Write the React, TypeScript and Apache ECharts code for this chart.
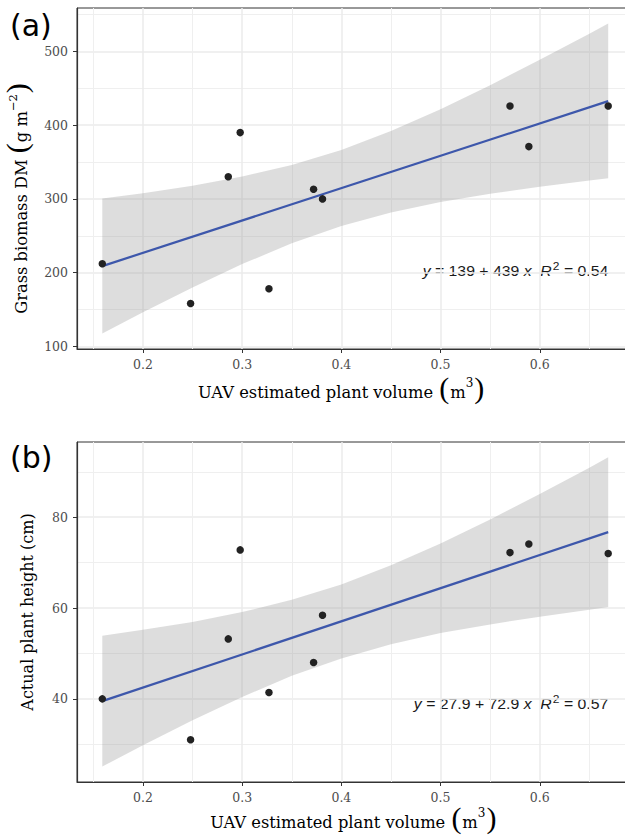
import React, { useEffect, useRef } from 'react';
import * as echarts from 'echarts';

// ---- data ----
const plantVolume = [0.159, 0.248, 0.286, 0.298, 0.327, 0.372, 0.381, 0.570, 0.589, 0.669];
const grassBiomass = [212, 158, 330, 390, 178, 313, 300, 426, 371, 426];
const plantHeight = [40.0, 31.0, 53.2, 72.8, 41.4, 48.0, 58.4, 72.2, 74.1, 72.0];

// confidence band edges
const bandVolume = [0.159, 0.2, 0.25, 0.3, 0.35, 0.4, 0.45, 0.5, 0.55, 0.6, 0.65, 0.669];
const biomassLower = [117.3, 146.1, 179.9, 211.5, 239.7, 263.1, 281.6, 295.9, 307.1, 316.6, 324.9, 327.9];
const biomassUpper = [300.5, 307.8, 317.9, 330.3, 346.1, 366.5, 392.0, 421.7, 454.3, 488.8, 524.3, 538.1];
const heightLower = [25.1, 29.8, 35.3, 40.4, 45.1, 48.9, 52.0, 54.5, 56.4, 58.1, 59.6, 60.2];
const heightUpper = [53.9, 55.2, 56.9, 59.1, 61.8, 65.2, 69.4, 74.2, 79.5, 85.1, 90.9, 93.2];

// fitted lines (end points)
const fitVolume = [0.159, 0.669];
const biomassFit = [208.8, 432.7];
const heightFit = [39.5, 76.7];

// axes
const xTicks = [0.2, 0.3, 0.4, 0.5, 0.6];
const xMinorTicks = [0.15, 0.25, 0.35, 0.45, 0.55, 0.65];
const biomassTicks = [100, 200, 300, 400, 500];
const biomassMinorTicks = [150, 250, 350, 450, 550];
const heightTicks = [40, 60, 80];
const heightMinorTicks = [30, 50, 70, 90];
const xRange = [0.1335, 0.6945];
const biomassRange = [96.3, 559.1];
const heightRange = [21.7, 96.55];

// texts
const xTitle = 'UAV estimated plant volume ';
const biomassTitle = 'Grass biomass DM ';
const heightTitle = 'Actual plant height (cm)';
const eqA = { a: '139', b: '439', r2: '0.54' };
const eqB = { a: '27.9', b: '72.9', r2: '0.57' };

const SERIF = "'DejaVu Serif', serif";
const PAREN = "'Liberation Serif', serif";
const SANS = "'Liberation Sans', Arial, sans-serif";
const TICK_COLOR = '#4D4D4D';
const DARK = '#333333';
const BAND_FILL = 'rgba(153,153,153,0.33)';
const LINE_COLOR = '#3D57AB';
const POINT_COLOR = '#222222';
const MAJOR_GRID = { color: '#EBEBEB', width: 1.5 };
const MINOR_GRID = { color: '#EFEFEF', width: 1 };

function majorX(gridIndex: number) {
  return {
    type: 'value', gridIndex, min: xRange[0], max: xRange[1], position: 'bottom',
    axisLine: { show: true, onZero: false, lineStyle: { color: DARK, width: 1.2 } },
    axisTick: { show: true, length: 4, customValues: xTicks, lineStyle: { color: DARK, width: 1 } },
    axisLabel: { show: true, customValues: xTicks, margin: 9, color: TICK_COLOR, fontFamily: SERIF, fontSize: 12.5 },
    splitLine: { show: true, lineStyle: MAJOR_GRID },
  };
}
function minorX(gridIndex: number) {
  return {
    type: 'value', gridIndex, min: xRange[0], max: xRange[1], position: 'top',
    axisLine: { show: false }, axisTick: { show: false, customValues: xMinorTicks },
    axisLabel: { show: false, customValues: xMinorTicks },
    splitLine: { show: true, lineStyle: MINOR_GRID },
  };
}
function majorY(gridIndex: number, range: number[], ticks: number[]) {
  return {
    type: 'value', gridIndex, min: range[0], max: range[1], position: 'left',
    axisLine: { show: true, onZero: false, lineStyle: { color: DARK, width: 1.2 } },
    axisTick: { show: true, length: 4, customValues: ticks, lineStyle: { color: DARK, width: 1 } },
    axisLabel: { show: true, customValues: ticks, margin: 9, color: TICK_COLOR, fontFamily: SERIF, fontSize: 12.5 },
    splitLine: { show: true, lineStyle: MAJOR_GRID },
  };
}
function minorY(gridIndex: number, range: number[], ticks: number[]) {
  return {
    type: 'value', gridIndex, min: range[0], max: range[1], position: 'right',
    axisLine: { show: false }, axisTick: { show: false, customValues: ticks },
    axisLabel: { show: false, customValues: ticks },
    splitLine: { show: true, lineStyle: MINOR_GRID },
  };
}

function bandSeries(axisIndex: number, lower: number[], upper: number[]) {
  return {
    type: 'custom', xAxisIndex: axisIndex, yAxisIndex: axisIndex, silent: true, z: 2,
    data: bandVolume.map((x, i) => [x, lower[i], upper[i]]),
    encode: { x: 0, y: [1, 2] },
    renderItem: (params: any, api: any) => {
      if (params.dataIndex !== 0) return null;
      const pts: number[][] = [];
      for (let i = 0; i < bandVolume.length; i++) pts.push(api.coord([bandVolume[i], upper[i]]));
      for (let i = bandVolume.length - 1; i >= 0; i--) pts.push(api.coord([bandVolume[i], lower[i]]));
      return { type: 'polygon', shape: { points: pts }, style: { fill: BAND_FILL, stroke: 'none' } };
    },
  };
}
function fitSeries(axisIndex: number, fit: number[]) {
  return {
    type: 'line', xAxisIndex: axisIndex, yAxisIndex: axisIndex, z: 3, silent: true,
    data: fitVolume.map((x, i) => [x, fit[i]]),
    showSymbol: false, symbol: 'none',
    lineStyle: { color: LINE_COLOR, width: 2.2 },
  };
}
function pointSeries(axisIndex: number, ys: number[]) {
  return {
    type: 'scatter', xAxisIndex: axisIndex, yAxisIndex: axisIndex, z: 4, silent: true,
    data: plantVolume.map((x, i) => [x, ys[i]]),
    symbol: 'circle', symbolSize: 7.5,
    itemStyle: { color: POINT_COLOR, opacity: 1 },
  };
}

function xTitleText(cx: number, cy: number) {
  return {
    type: 'text', x: cx, y: cy, silent: true,
    style: {
      text: xTitle + '{p|(}m{s|3}{p|)}',
      fontFamily: SERIF, fontSize: 16.3, fill: '#000',
      align: 'center', verticalAlign: 'middle', textAlign: 'center', textVerticalAlign: 'middle',
      rich: {
        p: { fontFamily: PAREN, fontSize: 30, fill: '#000', padding: [0, 1, 10, 1] },
        s: { fontFamily: SERIF, fontSize: 12, fill: '#000', padding: [0, 0, 19, 0] },
      },
    },
  };
}
function eqText(rx: number, cy: number, eq: { a: string; b: string; r2: string }) {
  return {
    type: 'text', x: rx, y: cy, scaleX: 1.09, silent: true,
    style: {
      text: `{i|y} = ${eq.a} + ${eq.b} {i|x}  {i|R}{s|2} = ${eq.r2}`,
      fontFamily: SANS, fontSize: 14.5, fill: '#1a1a1a',
      align: 'right', verticalAlign: 'middle', textAlign: 'right', textVerticalAlign: 'middle',
      rich: {
        i: { fontFamily: SANS, fontSize: 14.5, fontStyle: 'italic', fill: '#1a1a1a' },
        s: { fontFamily: SANS, fontSize: 11, fill: '#1a1a1a', padding: [0, 0, 9, 1] },
      },
    },
  };
}

export default function App() {
  const ref = useRef<HTMLDivElement>(null);
  useEffect(() => {
    if (!ref.current) return;
    const chart = echarts.init(ref.current, null, { renderer: 'svg' });
    chart.setOption({
      animation: false,
      backgroundColor: '#ffffff',
      grid: [
        { left: 77, top: 8, width: 556.5, height: 341, show: true, borderColor: DARK, borderWidth: 1, backgroundColor: 'transparent', containLabel: false, outerBoundsMode: 'none' },
        { left: 77, top: 442, width: 556.5, height: 340, show: true, borderColor: DARK, borderWidth: 1, backgroundColor: 'transparent', containLabel: false, outerBoundsMode: 'none' },
      ],
      xAxis: [majorX(0), minorX(0), majorX(1), minorX(1)],
      yAxis: [
        majorY(0, biomassRange, biomassTicks), minorY(0, biomassRange, biomassMinorTicks),
        majorY(1, heightRange, heightTicks), minorY(1, heightRange, heightMinorTicks),
      ],
      series: [
        bandSeries(0, biomassLower, biomassUpper),
        fitSeries(0, biomassFit),
        pointSeries(0, grassBiomass),
        bandSeries(2, heightLower, heightUpper),
        fitSeries(2, heightFit),
        pointSeries(2, plantHeight),
      ],
      graphic: [
        { type: 'text', x: 10, y: 25, silent: true, style: { text: '(a)', fontFamily: "'DejaVu Sans', sans-serif", fontSize: 30, fill: '#000', align: 'left', verticalAlign: 'middle', textAlign: 'left', textVerticalAlign: 'middle' } },
        { type: 'text', x: 10, y: 457, silent: true, style: { text: '(b)', fontFamily: "'DejaVu Sans', sans-serif", fontSize: 30, fill: '#000', align: 'left', verticalAlign: 'middle', textAlign: 'left', textVerticalAlign: 'middle' } },
        {
          type: 'text', x: 21.5, y: 198, rotation: Math.PI / 2, silent: true,
          style: {
            text: biomassTitle + '{p|(}g m{s|\u22122}{p|)}',
            fontFamily: SERIF, fontSize: 16.3, fill: '#000',
            align: 'center', verticalAlign: 'middle', textAlign: 'center', textVerticalAlign: 'middle',
            rich: {
              p: { fontFamily: PAREN, fontSize: 30, fill: '#000', padding: [0, 1, 10, 1] },
              s: { fontFamily: SERIF, fontSize: 11.5, fill: '#000', padding: [0, 0, 17, 0] },
            },
          },
        },
        {
          type: 'text', x: 27.5, y: 612, rotation: Math.PI / 2, silent: true,
          style: {
            text: heightTitle, fontFamily: SERIF, fontSize: 16, fill: '#000',
            align: 'center', verticalAlign: 'middle', textAlign: 'center', textVerticalAlign: 'middle',
          },
        },
        xTitleText(341.7, 392.6),
        xTitleText(353.8, 822.3),
        eqText(608.3, 271, eqA),
        eqText(608.3, 703.3, eqB),
      ],
    });
    return () => chart.dispose();
  }, []);
  return <div ref={ref} style={{ position: 'fixed', left: 0, top: 0, width: 625, height: 837, background: '#fff' }} />;
}
